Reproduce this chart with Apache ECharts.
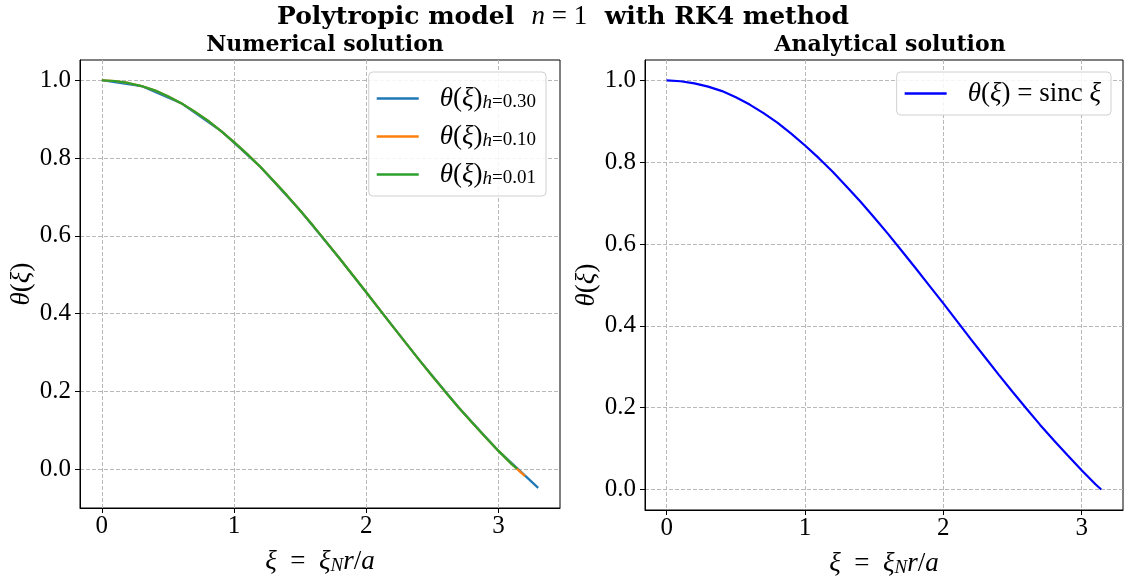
<!DOCTYPE html>
<html>
<head>
<meta charset="utf-8">
<script src="https://cdn.jsdelivr.net/npm/echarts@6/dist/echarts.min.js"></script>
<style>
  html, body { margin: 0; padding: 0; background: #fff; }
  #chart { width: 1126px; height: 578px; }
</style>
</head>
<body>
<div id="chart"></div>
<script>
// step h = 0.30
const xH030 = [0, 0.3, 0.6, 0.9, 1.2, 1.5, 1.8, 2.1, 2.4, 2.7, 3.0, 3.3]
const yH030 = [1.0, 0.985, 0.941, 0.870, 0.777, 0.665, 0.541, 0.411, 0.281, 0.158, 0.047, -0.048]

// step h = 0.10
const xH010 = [0, 0.1, 0.2, 0.3, 0.4, 0.5, 0.6, 0.7, 0.8, 0.9, 1.0, 1.1, 1.2, 1.3, 1.4, 1.5, 1.6,
  1.7, 1.8, 1.9, 2.0, 2.1, 2.2, 2.3, 2.4, 2.5, 2.6, 2.7, 2.8, 2.9, 3.0, 3.1, 3.2]
const yH010 = [1.0, 0.998, 0.993, 0.985, 0.974, 0.959, 0.941, 0.920, 0.897, 0.870, 0.841, 0.810, 0.777,
  0.741, 0.704, 0.665, 0.625, 0.583, 0.541, 0.498, 0.455, 0.411, 0.367, 0.324, 0.281, 0.239, 0.198,
  0.158, 0.120, 0.083, 0.047, 0.013, -0.018]

// step h = 0.01
const xH001 = [0, 0.1, 0.2, 0.3, 0.4, 0.5, 0.6, 0.7, 0.8, 0.9, 1.0, 1.1, 1.2, 1.3, 1.4, 1.5, 1.6,
  1.7, 1.8, 1.9, 2.0, 2.1, 2.2, 2.3, 2.4, 2.5, 2.6, 2.7, 2.8, 2.9, 3.0, 3.1, 3.14]
const yH001 = [1.0, 0.998, 0.993, 0.985, 0.974, 0.959, 0.941, 0.920, 0.897, 0.870, 0.841, 0.810, 0.777,
  0.741, 0.704, 0.665, 0.625, 0.583, 0.541, 0.498, 0.455, 0.411, 0.367, 0.324, 0.281, 0.239, 0.198,
  0.158, 0.120, 0.083, 0.047, 0.013, 0.001]

// analytical sinc
const xSinc = [0, 0.1, 0.2, 0.3, 0.4, 0.5, 0.6, 0.7, 0.8, 0.9, 1.0, 1.1, 1.2, 1.3, 1.4, 1.5, 1.6,
  1.7, 1.8, 1.9, 2.0, 2.1, 2.2, 2.3, 2.4, 2.5, 2.6, 2.7, 2.8, 2.9, 3.0, 3.1, 3.1416]
const ySinc = [1.0, 0.998, 0.993, 0.985, 0.974, 0.959, 0.941, 0.920, 0.897, 0.870, 0.841, 0.810, 0.777,
  0.741, 0.704, 0.665, 0.625, 0.583, 0.541, 0.498, 0.455, 0.411, 0.367, 0.324, 0.281, 0.239, 0.198,
  0.158, 0.120, 0.083, 0.047, 0.013, 0.0]

const xTicks = [0, 1, 2, 3]
const yTicks = [0, 0.2, 0.4, 0.6, 0.8, 1.0]

const FONT = 'Liberation Serif'
const BOLD = 'DejaVu Serif'
const pair = (xs, ys) => xs.map((x, i) => [x, ys[i]])

// math text pieces; subscripts are pushed down by padding the line box
const mathRich = {
  i: { fontFamily: FONT, fontSize: 27, fontStyle: 'italic', fontWeight: 'normal', color: '#000', lineHeight: 27, verticalAlign: 'top' },
  r: { fontFamily: FONT, fontSize: 27, fontStyle: 'normal', fontWeight: 'normal', color: '#000', lineHeight: 27, verticalAlign: 'top' },
  s: { fontFamily: FONT, fontSize: 19, fontStyle: 'italic', fontWeight: 'normal', color: '#000', lineHeight: 19, verticalAlign: 'bottom', padding: [13, 0, 0, 0] },
  sr: { fontFamily: FONT, fontSize: 19, fontStyle: 'normal', fontWeight: 'normal', color: '#000', lineHeight: 19, verticalAlign: 'bottom', padding: [13, 0, 0, 0] }
}

const titleRich = {
  b: { fontFamily: BOLD, fontSize: 22, fontWeight: 'bold', color: '#000', lineHeight: 28, verticalAlign: 'middle' },
  B: { fontFamily: BOLD, fontSize: 25, fontWeight: 'bold', color: '#000', lineHeight: 30, verticalAlign: 'middle' },
  m: { fontFamily: FONT, fontSize: 27, fontStyle: 'italic', fontWeight: 'normal', color: '#000', lineHeight: 30, verticalAlign: 'middle' },
  mr: { fontFamily: FONT, fontSize: 27, fontStyle: 'normal', fontWeight: 'normal', color: '#000', lineHeight: 30, verticalAlign: 'middle' }
}

const splitStyle = { show: true, lineStyle: { color: '#b8b8b8', type: [4, 2], width: 1 } }

function xAxisFor (gridIndex, min, max) {
  return {
    type: 'value',
    gridIndex,
    min,
    max,
    splitNumber: 4,
    axisLine: { show: true, onZero: false, lineStyle: { color: '#000', width: 1 } },
    axisTick: { show: true, length: 5, customValues: xTicks, lineStyle: { color: '#000' } },
    axisLabel: {
      fontFamily: FONT, fontSize: 25, color: '#000', margin: 6,
      formatter: v => Number.isInteger(v) ? String(v) : ''
    },
    splitLine: splitStyle,
    name: '{i|ξ}{r|  =  }{i|ξ}{s|N}{i|r}{r|/}{i|a}',
    nameLocation: 'middle',
    nameGap: 33,
    nameTextStyle: { rich: mathRich }
  }
}

function yAxisFor (gridIndex, min, max) {
  return {
    type: 'value',
    gridIndex,
    min,
    max,
    splitNumber: 5,
    axisLine: { show: true, onZero: false, lineStyle: { color: '#000', width: 1 } },
    axisTick: { show: true, length: 5, customValues: yTicks, lineStyle: { color: '#000' } },
    axisLabel: {
      fontFamily: FONT, fontSize: 25, color: '#000', margin: 9,
      formatter: v => Math.abs(v * 5 - Math.round(v * 5)) < 1e-6 ? v.toFixed(1) : ''
    },
    splitLine: splitStyle,
    name: '{i|θ}{r|(}{i|ξ}{r|)}',
    nameLocation: 'middle',
    nameGap: 44,
    nameRotate: 90,
    nameTextStyle: { rich: mathRich }
  }
}

const legendName = {
  'h030': '{i|θ}{r|(}{i|ξ}{r|)}{s|h}{sr|=0.30}',
  'h010': '{i|θ}{r|(}{i|ξ}{r|)}{s|h}{sr|=0.10}',
  'h001': '{i|θ}{r|(}{i|ξ}{r|)}{s|h}{sr|=0.01}',
  'sinc': '{i|θ}{r|(}{i|ξ}{r|) = sinc }{i|ξ}'
}

const legendBase = {
  orient: 'vertical',
  icon: 'rect',
  itemWidth: 42,
  itemHeight: 2.5,
  itemGap: 6,
  backgroundColor: 'rgba(255,255,255,0.85)',
  borderColor: '#d0d0d0',
  borderWidth: 1,
  borderRadius: 4,
  padding: [8, 10, 8, 8],
  formatter: name => legendName[name],
  textStyle: { rich: mathRich, padding: [0, 0, 0, 16] }
}

const gridBase = {
  show: true,
  borderColor: '#000',
  borderWidth: 1,
  backgroundColor: 'transparent',
  containLabel: false,
  outerBoundsMode: 'none'
}

const chart = echarts.init(document.getElementById('chart'), null, { renderer: 'canvas' })

chart.setOption({
  animation: false,
  backgroundColor: '#fff',
  title: [
    {
      text: '{B|Polytropic model  }{m|n}{mr| = 1}{B|  with RK4 method}',
      left: 'center',
      top: -3,
      textStyle: { rich: titleRich }
    },
    {
      text: '{b|Numerical solution}',
      left: 320,
      textAlign: 'center',
      top: 26,
      textStyle: { rich: titleRich }
    },
    {
      text: '{b|Analytical solution}',
      left: 885,
      textAlign: 'center',
      top: 26,
      textStyle: { rich: titleRich }
    }
  ],
  grid: [
    Object.assign({}, gridBase, { left: 80, right: 566, top: 60, bottom: 70 }),
    Object.assign({}, gridBase, { left: 645, right: 3, top: 60, bottom: 68 })
  ],
  legend: [
    Object.assign({}, legendBase, { data: ['h030', 'h010', 'h001'], top: 72, right: 580 }),
    Object.assign({}, legendBase, { data: ['sinc'], top: 72, right: 15 })
  ],
  xAxis: [xAxisFor(0, -0.165, 3.465), xAxisFor(1, -0.157, 3.299)],
  yAxis: [yAxisFor(0, -0.0998, 1.052), yAxisFor(1, -0.05, 1.05)],
  series: [
    {
      name: 'h030', type: 'line', xAxisIndex: 0, yAxisIndex: 0,
      data: pair(xH030, yH030), showSymbol: false,
      lineStyle: { color: '#1f77b4', width: 2.2 }, itemStyle: { color: '#1f77b4' }
    },
    {
      name: 'h010', type: 'line', xAxisIndex: 0, yAxisIndex: 0,
      data: pair(xH010, yH010), showSymbol: false,
      lineStyle: { color: '#ff7f0e', width: 2.2 }, itemStyle: { color: '#ff7f0e' }
    },
    {
      name: 'h001', type: 'line', xAxisIndex: 0, yAxisIndex: 0,
      data: pair(xH001, yH001), showSymbol: false,
      lineStyle: { color: '#2ca02c', width: 2.2 }, itemStyle: { color: '#2ca02c' }
    },
    {
      name: 'sinc', type: 'line', xAxisIndex: 1, yAxisIndex: 1,
      data: pair(xSinc, ySinc), showSymbol: false,
      lineStyle: { color: '#0000ff', width: 2.2 }, itemStyle: { color: '#0000ff' }
    }
  ]
})
</script>
</body>
</html>
